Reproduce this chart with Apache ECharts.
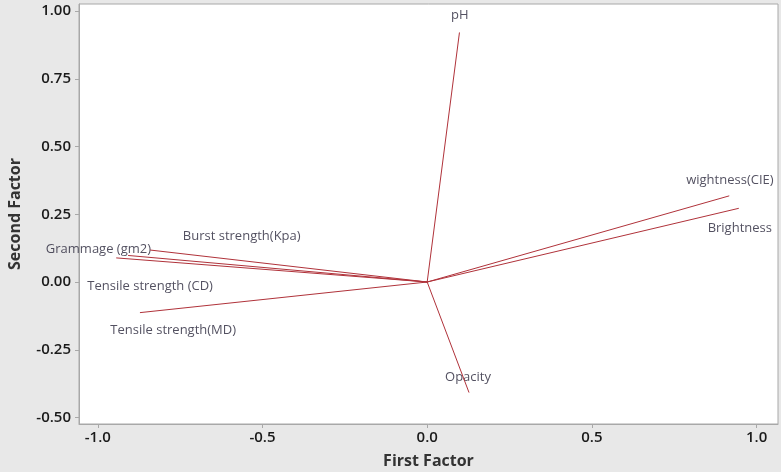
<!DOCTYPE html>
<html><head><meta charset="utf-8">
<script src="https://cdn.jsdelivr.net/npm/echarts@6/dist/echarts.min.js"></script>
<style>html,body{margin:0;padding:0;background:#e8e8e8}#c{width:781px;height:472px}</style>
</head><body><div id="c"></div>
<script>
const variables = ["pH","wightness(CIE)","Brightness","Opacity","Grammage (gm2)","Burst strength(Kpa)","Tensile strength (CD)","Tensile strength(MD)"];
const factor1 = [0.098, 0.917, 0.946, 0.127, -0.944, -0.841, -0.908, -0.872];
const factor2 = [0.921, 0.318, 0.272, -0.408, 0.089, 0.118, 0.098, -0.113];
const labelX = [0.099, 0.919, 0.949, 0.124, -0.998, -0.563, -0.841, -0.771];
const labelY = [0.983, 0.377, 0.199, -0.350, 0.121, 0.170, -0.015, -0.180];
const xTicks = [-1.0, -0.5, 0.0, 0.5, 1.0];
const yTicks = [-0.50, -0.25, 0.00, 0.25, 0.50, 0.75, 1.00];

const chart = echarts.init(document.getElementById('c'));
const font = '"Open Sans","Noto Sans",sans-serif';
const series = variables.map((v,i)=>({
  type:'line', name:v, data:[[0,0],[factor1[i],factor2[i]]],
  symbol:'none', lineStyle:{color:'#b0323a', width:1}, silent:true, animation:false
}));
series.push({
  type:'scatter', symbolSize:0, animation:false, silent:true,
  data: variables.map((v,i)=>({value:[labelX[i],labelY[i]], name:v})),
  label:{show:true, position:'inside', formatter:p=>p.name, color:'#28263a', fontSize:13, fontFamily:font}
});
chart.setOption({
  backgroundColor:'#e8e8e8',
  animation:false,
  grid:{left:79, right:3, top:4, bottom:48, show:true, backgroundColor:'#ffffff', borderColor:'#a8a8a8', borderWidth:1, containLabel:false, outerBoundsMode:'none'},
  xAxis:{type:'value', min:-1.057, max:1.065,
    name:'First Factor', nameLocation:'middle', nameGap:29,
    nameTextStyle:{fontSize:16, fontWeight:'bold', color:'#333', fontFamily:font},
    axisLine:{show:true, onZero:false, lineStyle:{color:'#a8a8a8'}},
    axisTick:{show:true, length:4, customValues:xTicks, lineStyle:{color:'#a8a8a8'}},
    axisLabel:{customValues:xTicks, formatter:v=>v.toFixed(1), fontSize:15, fontWeight:600, color:'#1a1a1a', margin:6, fontFamily:font},
    splitLine:{show:false}},
  yAxis:{type:'value', min:-0.524, max:1.026,
    name:'Second Factor', nameLocation:'middle', nameGap:56, nameRotate:90,
    nameTextStyle:{fontSize:16, fontWeight:'bold', color:'#333', fontFamily:font},
    axisLine:{show:true, onZero:false, lineStyle:{color:'#a8a8a8'}},
    axisTick:{show:true, length:4, customValues:yTicks, lineStyle:{color:'#a8a8a8'}},
    axisLabel:{customValues:yTicks, formatter:v=>v.toFixed(2), fontSize:15, fontWeight:600, color:'#1a1a1a', margin:8, fontFamily:font},
    splitLine:{show:false}},
  series
});
</script></body></html>
